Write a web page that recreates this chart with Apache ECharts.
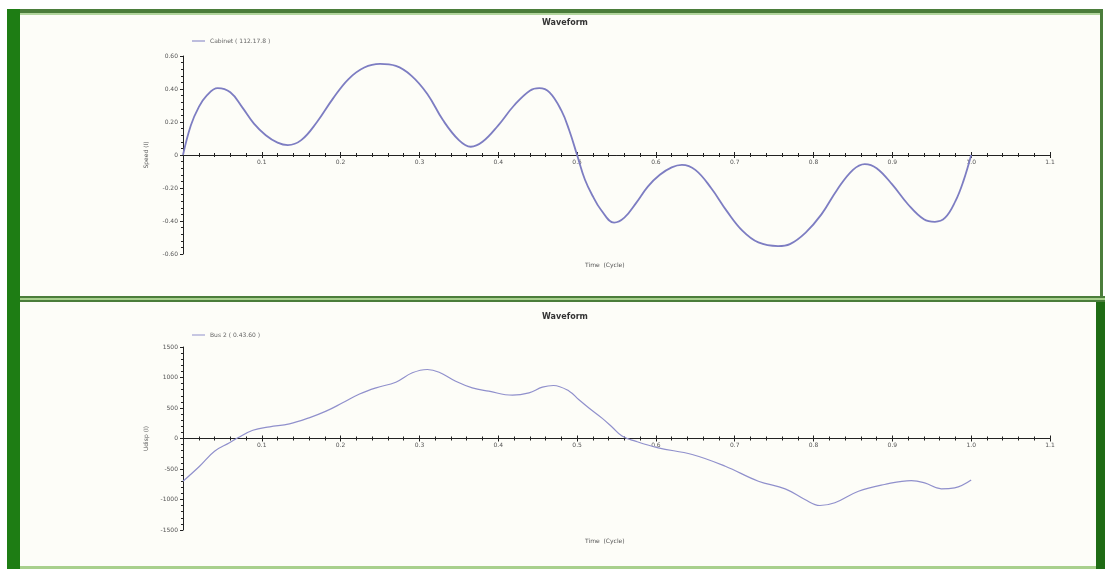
<!DOCTYPE html>
<html>
<head>
<meta charset="utf-8">
<script src="https://cdn.jsdelivr.net/npm/echarts@6/dist/echarts.min.js"></script>
<style>
html,body{margin:0;padding:0;background:#ffffff;}
#c{width:1105px;height:569px;}
</style>
</head>
<body>
<div id="c"></div>
<script>
// ---- data ----
const chartTitles = ['Waveform', 'Waveform'];
const topSeriesName = 'Cabinet ( 112.17.8 )';
const bottomSeriesName = 'Bus 2 ( 0.43.60 )';
const xAxisName = 'Time  (Cycle)';
const topYName = 'Speed (I)';
const bottomYName = 'Udisp (I)';

const topTime = [0,0.01,0.02,0.03,0.044,0.06,0.075,0.09,0.105,0.12,0.133,0.15,0.17,0.19,0.21,0.23,0.25,0.27,0.29,0.31,0.33,0.35,0.365,0.38,0.40,0.42,0.44,0.452,0.465,0.48,0.49,0.5,
  0.51,0.52,0.53,0.547,0.56,0.575,0.59,0.605,0.62,0.633,0.65,0.67,0.69,0.71,0.73,0.755,0.77,0.79,0.81,0.83,0.85,0.865,0.88,0.90,0.92,0.94,0.954,0.967,0.98,0.99,1.0];
const topValue = [0,0.18,0.29,0.36,0.405,0.38,0.29,0.19,0.12,0.075,0.06,0.09,0.2,0.34,0.46,0.53,0.552,0.54,0.48,0.37,0.21,0.09,0.05,0.08,0.18,0.30,0.39,0.405,0.38,0.27,0.15,0,
  -0.15,-0.25,-0.33,-0.41,-0.38,-0.29,-0.19,-0.12,-0.075,-0.06,-0.09,-0.2,-0.34,-0.46,-0.53,-0.552,-0.54,-0.47,-0.36,-0.21,-0.09,-0.055,-0.08,-0.18,-0.30,-0.39,-0.405,-0.38,-0.28,-0.16,0];

const bottomTime = [0,0.021,0.040,0.059,0.0696,0.0886,0.11,0.135,0.16,0.1815,0.2025,0.224,0.245,0.27,0.291,0.31,0.325,0.346,0.367,0.388,0.418,0.439,0.456,0.47,0.49,0.502,0.515,0.532,0.545,0.557,0.574,0.603,0.646,0.688,0.73,0.764,0.789,0.808,0.827,0.857,0.89,0.924,0.941,0.962,0.979,1.0];
const bottomValue = [-700,-454,-208,-70,11,136,192,241,339,448,585,730,831,923,1077,1131,1087,939,831,776,710,749,841,869,776,640,500,330,180,40,-44,-153,-262,-454,-700,-825,-1000,-1098,-1054,-864,-754,-689,-727,-825,-809,-680];

const topYTicks = [-0.6,-0.4,-0.2,0,0.2,0.4,0.6];
const bottomYTicks = [-1500,-1000,-500,0,500,1000,1500];
const xTicks = [0,0.1,0.2,0.3,0.4,0.5,0.6,0.7,0.8,0.9,1.0,1.1];

// ---- chart ----
const chart = echarts.init(document.getElementById('c'), null, {renderer:'canvas'});
const lineColor = '#7d7dc2';
const axisColor = '#222';
const txtColor = '#555';
const fontFam = 'DejaVu Sans';

const grids = [
  {left:183, right:55, top:56, height:198},
  {left:183, right:55, top:347, height:183}
];

function pairs(xs, ys){ return xs.map((x,i)=>[x, ys[i]]); }

function xAxes(gridIndex, withLabels, inside){
  // x axis sits on the zero line, which is the vertical middle of the symmetric y range
  return {
    type:'value', gridIndex: gridIndex, min: xTicks[0], max: xTicks[xTicks.length-1], interval: 0.1,
    position:'bottom', offset: -grids[gridIndex].height/2,
    axisLine:{onZero:false, lineStyle:{color:axisColor, width:1}},
    axisTick:{show:true, inside:inside, length:3, lineStyle:{color:axisColor}},
    minorTick:{show:true, splitNumber:5, length:2, lineStyle:{color:axisColor}},
    splitLine:{show:false},
    axisLabel:{show:withLabels, fontSize:6, color:txtColor, fontFamily:fontFam, margin:4,
      formatter:v=> (Math.abs(v)<1e-9 ? '' : (Math.round(v*10)/10).toFixed(1))}
  };
}

function yAxis(gridIndex, ticks, decimals, name){
  const step = ticks[1]-ticks[0];
  return {
    type:'value', gridIndex:gridIndex, min:ticks[0], max:ticks[ticks.length-1], interval:step,
    axisLine:{show:true, onZero:false, lineStyle:{color:axisColor, width:1}},
    axisTick:{show:true, length:3, lineStyle:{color:axisColor}},
    minorTick:{show:true, splitNumber:5, length:2, lineStyle:{color:axisColor}},
    splitLine:{show:false},
    axisLabel:{fontSize:6, color:txtColor, fontFamily:fontFam, margin:5,
      formatter:v=> Math.abs(v)<1e-9 ? '0' : v.toFixed(decimals)},
    name:name, nameLocation:'middle', nameGap:34, nameRotate:90,
    nameTextStyle:{fontSize:6, color:txtColor, fontFamily:fontFam}
  };
}

const option = {
  backgroundColor:'#ffffff',
  animation:false,
  title:[
    {text:chartTitles[0], left:560, top:14, textAlign:'center', textStyle:{fontSize:8, fontWeight:'bold', color:'#333', fontFamily:fontFam}},
    {text:chartTitles[1], left:560, top:308, textAlign:'center', textStyle:{fontSize:8, fontWeight:'bold', color:'#333', fontFamily:fontFam}},
    {text:xAxisName, left:580, top:257, textStyle:{fontSize:6, fontWeight:'normal', color:txtColor, fontFamily:fontFam}},
    {text:xAxisName, left:580, top:533, textStyle:{fontSize:6, fontWeight:'normal', color:txtColor, fontFamily:fontFam}}
  ],
  legend:[
    {data:[topSeriesName], left:187, top:33, icon:'rect', itemWidth:13, itemHeight:1, itemGap:6,
      textStyle:{fontSize:6, color:'#666', fontFamily:fontFam}},
    {data:[bottomSeriesName], left:187, top:327, icon:'rect', itemWidth:13, itemHeight:1, itemGap:6,
      textStyle:{fontSize:6, color:'#666', fontFamily:fontFam}}
  ],
  grid: grids.map(g => Object.assign({outerBoundsMode:'none', containLabel:false}, g)),
  xAxis:[ xAxes(0,true,false), xAxes(0,false,true), xAxes(1,true,false), xAxes(1,false,true) ],
  yAxis:[ yAxis(0, topYTicks, 2, topYName), yAxis(1, bottomYTicks, 0, bottomYName) ],
  series:[
    {name:topSeriesName, type:'line', xAxisIndex:0, yAxisIndex:0, data:pairs(topTime, topValue),
      smooth:0.4, showSymbol:false, lineStyle:{color:lineColor, width:1.8}, itemStyle:{color:lineColor}},
    {name:bottomSeriesName, type:'line', xAxisIndex:2, yAxisIndex:1, data:pairs(bottomTime, bottomValue),
      smooth:0.4, showSymbol:false, lineStyle:{color:'#9090cc', width:1.2}, itemStyle:{color:'#9090cc'}}
  ],
  graphic:[
    {type:'rect', z:-10, shape:{x:20, y:15, width:1080, height:281}, style:{fill:'#fdfdf8'}},
    {type:'rect', z:-10, shape:{x:20, y:302, width:1076, height:264}, style:{fill:'#fdfdf8'}},
    {type:'rect', shape:{x:7, y:9, width:1096, height:4}, style:{fill:'#4b7d3b'}},
    {type:'rect', shape:{x:7, y:13, width:1096, height:2}, style:{fill:'#b3d69e'}},
    {type:'rect', shape:{x:1100, y:9, width:3, height:289}, style:{fill:'#4b7d3b'}},
    {type:'rect', shape:{x:7, y:296, width:1098, height:2}, style:{fill:'#4b7d3b'}},
    {type:'rect', shape:{x:7, y:298, width:1098, height:2}, style:{fill:'#a8d08d'}},
    {type:'rect', shape:{x:7, y:300, width:1098, height:2}, style:{fill:'#4b7d3b'}},
    {type:'rect', shape:{x:1096, y:302, width:9, height:267}, style:{fill:'#1f6b14'}},
    {type:'rect', shape:{x:20, y:566, width:1076, height:3}, style:{fill:'#a8d08d'}},
    {type:'rect', shape:{x:7, y:9, width:13, height:560}, style:{fill:'#1e7d14'}}
  ]
};
chart.setOption(option);
</script>
</body>
</html>
